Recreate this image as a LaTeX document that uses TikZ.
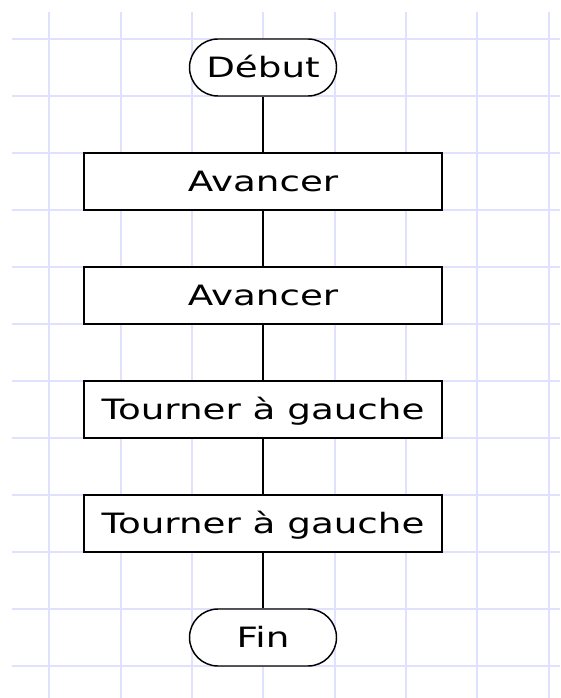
\documentclass[tikz,border=0pt]{standalone}
\usepackage{fontspec}
\newfontfamily\flowfont[FakeStretch=1.33]{DejaVu Sans}
\definecolor{gridblue}{RGB}{224,224,255}
\begin{document}
\begin{tikzpicture}[x=0.75pt,y=-0.75pt,
  gridline/.style={draw=gridblue,line width=1.5pt},
  stepbox/.style={draw=black,fill=white,line width=1.4pt,minimum width=268.5pt,minimum height=42.75pt,
    inner sep=0pt,text height=15pt,text depth=0pt,font=\flowfont\fontsize{21}{24}\selectfont},
  terminal/.style={stepbox,minimum width=110.25pt,rounded corners=21.375pt,line width=1.1pt},
  link/.style={draw=black,line width=1.5pt}]
\useasboundingbox (0,0) rectangle (560,698);
\fill[white] (0,0) rectangle (560,698);
\foreach \i in {0,...,7} \draw[gridline] ({49.3+71.35*\i},12) -- ({49.3+71.35*\i},698);
\foreach \j in {0,...,11} \draw[gridline] (12,{39+57*\j}) -- (560,{39+57*\j});
\node[terminal] (debut) at (263,67.5) {Début};
\node[stepbox] (a1) at (263,181.5) {Avancer};
\node[stepbox] (a2) at (263,295.5) {Avancer};
\node[stepbox] (t1) at (263,409.5) {Tourner à gauche};
\node[stepbox] (t2) at (263,523.5) {Tourner à gauche};
\node[terminal] (fin) at (263,637.5) {Fin};
\draw[link] (debut.south) -- (a1.north);
\draw[link] (a1.south) -- (a2.north);
\draw[link] (a2.south) -- (t1.north);
\draw[link] (t1.south) -- (t2.north);
\draw[link] (t2.south) -- (fin.north);
\end{tikzpicture}
\end{document}
